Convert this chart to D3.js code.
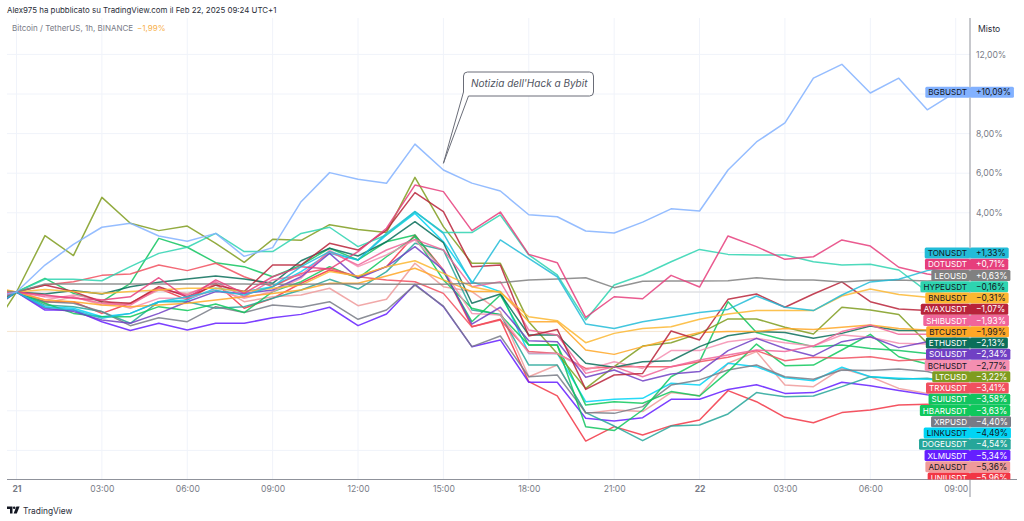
<!DOCTYPE html>
<html>
<head>
<meta charset="utf-8">
<style>
  html, body { margin: 0; padding: 0; background: #fff; overflow: hidden; }
  text { font-family: Inter, "Noto Sans", sans-serif; }
  .domain, .tick line { display: none; }
</style>
<script src="https://d3js.org/d3.v7.min.js"></script>
</head>
<body>
<script>
// hours since Feb 21 00:00, the first one is cut by the chart edge
var hours = d3.range(-1, 34);
var xTickHours = [0, 3, 6, 9, 12, 15, 18, 21, 24, 27, 30, 33];
var xTickLabels = ["21", "03:00", "06:00", "09:00", "12:00", "15:00", "18:00", "21:00", "22", "03:00", "06:00", "09:00"];
var yGrid = [-8, -6, -4, -2, 0, 2, 4, 6, 8, 10, 12];
// the other tick labels sit behind the price labels
var yTicks = [4, 6, 8, 12];

var names = ["UNIUSDT", "ADAUSDT", "XLMUSDT", "DOGEUSDT", "LINKUSDT", "XRPUSD", "HBARUSDT", "SUIUSDT", "TRXUSDT", "LTCUSD", "BCHUSDT", "SOLUSDT", "ETHUSDT", "BTCUSDT", "SHIBUSDT", "AVAXUSDT", "BNBUSDT", "HYPEUSDT", "LEOUSD", "DOTUSDT", "TONUSDT", "BGBUSDT"];
var colors = ["#f23645", "#ef9a9a", "#651fff", "#26a69a", "#00d4f5", "#787b86", "#0fc85c", "#11c45f", "#f1505f", "#7f9c1f", "#f48fb1", "#7040c4", "#0b6f5a", "#ffa726", "#f0659a", "#b8233a", "#fcb731", "#2ed4b0", "#808080", "#e63e7c", "#22bcd8", "#82b1ff"];
var darkText = ["ADAUSDT", "LINKUSDT", "BCHUSDT", "BTCUSDT", "BNBUSDT", "HYPEUSDT", "TONUSDT", "BGBUSDT"];

var uni = [-.2,0,-.49,-.49,-1.08,-.57,.19,-.4,.44,-.82,-.32,.44,1.11,.77,1.28,2.88,1.11,-1.75,-1.38,-4.53,-5.25,-7.53,-6.8,-7.22,-6.75,-6.46,-4.98,-5.54,-6.33,-6.6,-6.09,-5.96,-5.71,-5.67,-5.96];
var ada = [-.4,0,-.57,-.24,-.66,-.57,.1,-.07,.35,-.49,-.24,-.15,.19,-.69,-.37,1.45,.27,.02,-.99,-4.28,-3.69,-6.13,-5.96,-6.04,-5.08,-5.24,-3.6,-3.01,-4.7,-4.78,-3.86,-4.28,-4.87,-5.12,-5.36];
var xlm = [-.8,0,-.91,-.91,-1.5,-1.94,-1.58,-1.92,-1.58,-1.58,-1.3,-1.13,-.77,-1.7,-1.11,.39,-.74,-2.76,-2.42,-4.56,-4.56,-6.38,-6.52,-6.35,-5.42,-5.42,-4.92,-4.68,-5.12,-5.08,-4.56,-4.73,-4.98,-5.19,-5.34];
var doge = [-1,0,-.66,-.74,-.99,-1.58,-.49,-.49,-.82,-.74,-.32,.1,.64,.15,1.03,2.46,2.12,-.91,-1.13,-3.69,-3.69,-6.09,-6.77,-7.51,-6.77,-6.72,-6.16,-5.08,-5.29,-5.25,-4.78,-4.28,-4.41,-4.36,-4.54];
var link = [-.5,0,-.74,-.82,-1.25,-1.08,-.49,-.4,.19,.02,.27,1.03,1.95,1.62,2.88,3.97,2.54,.52,.02,-3.1,-3.1,-5.54,-5.42,-5.37,-4.61,-4.7,-3.6,-3.77,-4.33,-4.48,-3.8,-4.28,-4.36,-4.41,-4.49];
var xrp = [-.6,0,-.49,-.57,-.99,-1.7,-1.3,-1.5,-.74,-1.04,-.66,-.77,-.49,-1.38,-.91,.35,-.71,-2.76,-2.22,-4.28,-4.19,-6.09,-6.13,-5.79,-4.7,-4.44,-3.94,-3.69,-4.28,-4.41,-3.94,-3.97,-3.89,-4.02,-4.4];
var hbar = [-.9,0,-.57,-1.08,-1.25,-1.25,-.74,-.94,-.61,-1.04,.02,.52,1.28,.69,1.78,2.79,.61,-.82,-1.16,-2.68,-2.68,-5.71,-5.54,-5.62,-5.03,-5.25,-4.02,-2.63,-3.72,-3.69,-2.93,-2.14,-3.27,-3.64,-3.63];
var sui = [-.6,0,.69,-.07,-.49,.44,2.71,2.26,1.48,1.28,.77,1.36,2.21,1.62,2.54,2.88,1.03,-1.5,-.15,-2.68,-2.68,-6.8,-7,-5.96,-4.28,-3.52,-.49,-2.05,-2.42,-2.76,-2.68,-2.85,-2.96,-3.1,-3.58];
var trx = [-.1,0,.35,.52,.84,.91,1.36,1.08,1.45,.77,.27,.94,1.2,.77,.61,.52,-.07,-1.75,-1.41,-3.01,-3.1,-3.86,-3.77,-3.77,-3.77,-3.52,-3.3,-2.96,-3.47,-3.3,-3.35,-3.27,-3.47,-3.4,-3.41];
var ltc = [-2.2,0,2.85,1.84,4.78,3.47,3.1,3.33,2.46,1.5,2.66,2.61,3.4,3.16,3,5.79,3.3,1.45,1.45,-1.5,-3.1,-4.87,-3.77,-2.73,-2.56,-2.09,-1.36,-1.36,-1.78,-2.12,-.77,-.91,-1.14,-2.59,-3.22];
var bch = [-.3,0,-.4,-.15,-.4,-.82,-.32,-.32,.1,-.32,.02,.69,2.12,1.28,1.87,2.63,1.11,-1.08,-1.16,-3.1,-3.1,-3.94,-3.52,-3.86,-2.96,-2.96,-2.51,-2.34,-2.56,-2.73,-2.17,-2.29,-2.59,-2.63,-2.77];
var sol = [-1,0,-.82,-.99,-1.41,-1.58,-1.08,-.49,.02,-.07,.1,.77,1.95,.69,1.28,2.29,1.11,-1.62,-.77,-2.46,-2.51,-4.31,-3.94,-4.49,-4.14,-4.02,-2.96,-2.34,-2.85,-3.23,-2.51,-2.26,-2.81,-2.51,-2.34];
var eth = [-.8,0,-.1,.07,-.1,.27,.49,.66,.81,.66,.44,1.58,2.21,1.82,2.54,3.55,2.49,-.57,-.1,-2.17,-2.17,-3.6,-3.8,-3.52,-3.47,-2.76,-2.21,-2,-2.04,-2.34,-2.09,-1.72,-1.95,-1.95,-2.13];
var btc = [.2,0,-.4,-.49,-.66,-.74,-.66,-.57,-.4,-.24,-.07,.1,.44,.44,.81,1.2,.61,.02,.02,-1.5,-1.5,-2.93,-3.15,-2.76,-2.39,-2.05,-2,-2,-1.84,-1.89,-1.78,-1.67,-1.84,-1.92,-1.99];
var shib = [-.2,0,-.24,-.27,-.57,-.66,.19,-.15,.52,-.24,.61,.86,2.04,1.36,2.12,2.66,2.12,.27,.52,-1.92,-2.17,-4.11,-3.77,-4.28,-3.77,-3.43,-3.18,-2.93,-3.01,-2.73,-2,-1.67,-2.14,-2.14,-1.93];
var avax = [-.7,0,.35,.02,-.49,-.57,.27,-.24,.35,.02,1.36,1.36,2.46,2.12,3.13,5.02,4.06,1.28,1.36,-2.22,-1.89,-4.92,-4.19,-4.11,-1.97,-2.42,-.37,-.1,-.77,-.1,.51,-.49,-.86,-.94,-1.07];
var bnb = [.3,0,.13,.02,-.07,.02,.1,.19,.19,.02,.19,.35,1.03,.81,1.28,1.58,.94,.27,-.03,-1.25,-1.45,-2.56,-2.09,-1.84,-1.75,-1.38,-1.11,-.94,-.94,-.94,-.2,.15,-.13,-.27,-.31];
var hype = [-.5,0,.64,.64,.57,1.28,1.95,2.26,2.96,2.04,2.04,2.96,3.27,2.29,2.88,4.06,3,3,3.89,1.87,.86,-1.41,.35,.86,1.53,2.15,1.9,1.87,1.87,1.53,1.36,1.4,1.11,.02,-.16];
var leo = [.1,0,.4,.4,.4,.4,.4,.4,.4,.4,.39,.39,.4,.4,.39,.39,.39,.44,.47,.6,.66,.72,.22,.54,.56,.56,.57,.72,.6,.6,.5,.59,.61,.55,.63];
var dot = [-.4,0,-.15,-.32,-.4,-.24,.72,-.32,.61,-.07,.77,1.28,1.16,2.04,3.22,5.4,5.07,3.1,4.04,1.9,1.48,-1.28,-.24,-.34,.84,.25,2.83,2.29,1.65,1.78,2.63,2.32,1.25,.91,.71];
var ton = [-.9,0,-.77,-.9,-1.33,-1.08,-.49,-.24,.07,-.15,.27,1.28,2.04,1.62,2.96,4.06,2.96,.44,2.63,1.7,.77,-1.62,-1.84,-1.5,-1.28,-1.04,-.88,-.2,-.77,-.94,-.15,.51,.64,1.08,1.33];
var bgb = [-.3,0,1.36,2.4,3.27,3.47,2.83,2.56,2.96,1.8,2.24,4.56,6.03,5.69,5.49,7.47,6.16,5.5,5.1,3.9,3.8,3.08,2.98,3.53,4.2,4.09,6.16,7.58,8.54,10.8,11.5,10.05,10.8,9.2,10.09];
var seriesValues = [uni, ada, xlm, doge, link, xrp, hbar, sui, trx, ltc, bch, sol, eth, btc, shib, avax, bnb, hype, leo, dot, ton, bgb];

var width = 1024, height = 521;
var plotLeft = 7, plotRight = 970, axisBottomY = 479.5;

var x = d3.scaleLinear().domain([0, 33]).range([16.5, 955.7]);
var y = d3.scaleLinear().domain([0, 12]).range([292, 54.4]);

var pct = function(v) { return v.toFixed(2).replace(".", ",") + "%"; };
var signed = function(v) { return (v < 0 ? "\u2212" : "+") + pct(Math.abs(v)); };

var svg = d3.select("body").append("svg")
    .attr("width", width)
    .attr("height", height)
    .style("display", "block");

svg.append("clipPath").attr("id", "plot")
  .append("rect")
    .attr("x", plotLeft).attr("y", 18)
    .attr("width", plotRight - plotLeft).attr("height", axisBottomY - 18);

// grid
var grid = svg.append("g").attr("stroke", "#f0f3fa");
grid.selectAll("line.v").data(xTickHours)
  .enter().append("line").attr("class", "v")
    .attr("x1", function(d) { return x(d); }).attr("x2", function(d) { return x(d); })
    .attr("y1", 18).attr("y2", axisBottomY);
grid.selectAll("line.h").data(yGrid)
  .enter().append("line").attr("class", "h")
    .attr("x1", plotLeft).attr("x2", plotRight)
    .attr("y1", function(d) { return y(d); }).attr("y2", function(d) { return y(d); });

// zero line and last price line of the main symbol
svg.append("line")
    .attr("x1", plotLeft).attr("x2", plotRight)
    .attr("y1", y(0)).attr("y2", y(0))
    .attr("stroke", "#d8d8d8");
svg.append("line")
    .attr("x1", plotLeft).attr("x2", plotRight)
    .attr("y1", y(btc[btc.length - 1])).attr("y2", y(btc[btc.length - 1]))
    .attr("stroke", "#f7e7cf");

var line = d3.line()
    .x(function(d, i) { return x(hours[i]); })
    .y(function(d) { return y(d); });

svg.append("g")
    .attr("clip-path", "url(#plot)")
  .selectAll("path")
    .data(seriesValues)
  .enter().append("path")
    .attr("d", line)
    .attr("fill", "none")
    .attr("stroke", function(d, i) { return colors[i]; })
    .attr("stroke-width", 1.5)
    .attr("stroke-linejoin", "round")
    .attr("opacity", 0.85);

// axes
var xAxis = svg.append("g")
    .attr("transform", "translate(0," + axisBottomY + ")")
    .call(d3.axisBottom(x).tickValues(xTickHours).tickSize(0).tickPadding(6)
      .tickFormat(function(d, i) { return xTickLabels[i]; }));
xAxis.selectAll("text")
    .attr("fill", "#787b86")
    .style("font-size", "8.6px")
    .style("font-weight", function(d, i) { return xTickLabels[i].length == 2 ? 700 : 400; });

var yAxis = svg.append("g")
    .attr("transform", "translate(" + plotRight + ",0)")
    .call(d3.axisRight(y).tickValues(yTicks).tickSize(0).tickPadding(6).tickFormat(pct));
yAxis.selectAll("text")
    .attr("fill", "#787b86")
    .style("font-size", "8.6px");

svg.append("line")
    .attr("x1", plotLeft).attr("x2", 1017)
    .attr("y1", axisBottomY).attr("y2", axisBottomY)
    .attr("stroke", "#8f929b");
svg.append("line")
    .attr("x1", plotRight).attr("x2", plotRight)
    .attr("y1", 18).attr("y2", 497)
    .attr("stroke", "#8f929b");

// header texts
svg.append("text").attr("x", 7).attr("y", 13)
    .attr("fill", "#2a2e39").style("font-size", "7.9px")
    .text("Alex975 ha pubblicato su TradingView.com il Feb 22, 2025 09:24 UTC+1");
svg.append("text").attr("x", 12).attr("y", 31)
    .attr("fill", "#787b86").style("font-size", "8px")
    .text("Bitcoin / TetherUS, 1h, BINANCE");
svg.append("text").attr("x", 137).attr("y", 31)
    .attr("fill", "#f7b04a").style("font-size", "8px")
    .text(signed(btc[btc.length - 1]));
svg.append("text").attr("x", 978).attr("y", 32)
    .attr("fill", "#2a2e39").style("font-size", "8.6px")
    .text("Misto");

// callout
var boxX = 463.5, boxY = 72, boxW = 130, boxH = 24, r = 4;
var tipX = x(15), tipY = y(6.5);
svg.append("path")
    .attr("d", "M" + (boxX + r) + "," + boxY +
      "H" + (boxX + boxW - r) + "Q" + (boxX + boxW) + "," + boxY + " " + (boxX + boxW) + "," + (boxY + r) +
      "V" + (boxY + boxH - r) + "Q" + (boxX + boxW) + "," + (boxY + boxH) + " " + (boxX + boxW - r) + "," + (boxY + boxH) +
      "H" + (boxX + 5) + "L" + tipX + "," + tipY + "L" + boxX + "," + (boxY + 20) +
      "V" + (boxY + r) + "Q" + boxX + "," + boxY + " " + (boxX + r) + "," + boxY + "Z")
    .attr("fill", "#fff")
    .attr("stroke", "#6a6d78");
svg.append("text").attr("x", 471).attr("y", 87)
    .attr("fill", "#50535e")
    .style("font-size", "10px")
    .style("font-style", "italic")
    .text("Notizia dell'Hack a Bybit");

// price labels, stacked from the top except the far away BGB one
var labelOrder = d3.range(names.length - 2, -1, -1);
var labelH = 11, labelStep = 11.25, labelTop = 253;
var labelY = function(idx, row) {
  return names[idx] == "BGBUSDT" ? y(seriesValues[idx][seriesValues[idx].length - 1]) : labelTop + row * labelStep;
};

svg.append("clipPath").attr("id", "labelclip")
  .append("rect").attr("x", 0).attr("y", 0).attr("width", width).attr("height", axisBottomY);

var labels = svg.append("g")
    .attr("clip-path", "url(#labelclip)")
  .selectAll("g")
    .data([names.length - 1].concat(labelOrder))
  .enter().append("g")
    .attr("transform", function(d, i) { return "translate(0," + labelY(d, i - 1) + ")"; });

labels.each(function(d) {
  var g = d3.select(this);
  var value = seriesValues[d][seriesValues[d].length - 1];
  var ink = darkText.indexOf(names[d]) >= 0 ? "#131722" : "#fff";
  var rectL = g.append("rect").attr("y", -labelH / 2).attr("height", labelH).attr("rx", 1.5).attr("fill", colors[d]);
  var rectR = g.append("rect").attr("x", plotRight).attr("y", -labelH / 2).attr("height", labelH).attr("rx", 1.5).attr("fill", colors[d]);
  var nameText = g.append("text").attr("x", plotRight - 3).attr("y", 3.2)
      .attr("text-anchor", "end").attr("fill", ink).style("font-size", "8.1px").text(names[d]);
  var valueText = g.append("text").attr("x", plotRight + 6).attr("y", 3.2)
      .attr("fill", ink).style("font-size", "8.4px").text(signed(value));
  var nameW = nameText.node().getComputedTextLength();
  var valueW = valueText.node().getComputedTextLength();
  rectL.attr("x", plotRight - nameW - 6).attr("width", nameW + 6);
  rectR.attr("width", valueW + 9);
});

// TradingView mark
var logo = svg.append("g").attr("fill", "#131722").attr("transform", "translate(7,506.5)");
logo.append("path").attr("d", "M0,0H5.5V7H3V2.6H0Z");
logo.append("circle").attr("cx", 7.2).attr("cy", 1.3).attr("r", 1.3);
logo.append("path").attr("d", "M9.4,0H12.6L9.8,7H6.6Z");
svg.append("text").attr("x", 23).attr("y", 513.5)
    .attr("fill", "#2a2e39").style("font-size", "8.4px")
    .text("TradingView");
</script>
</body>
</html>
